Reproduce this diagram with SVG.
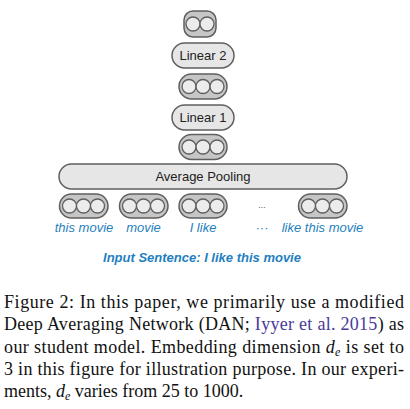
<svg xmlns="http://www.w3.org/2000/svg" width="410" height="409" viewBox="0 0 410 409">
<style>
.outer{fill:#c6c6c6;stroke:#5f5f5f;stroke-width:1.5}
.cir{fill:#ececec;stroke:#5f5f5f;stroke-width:1.3}
.box{fill:#e6e6e6;stroke:#5f5f5f;stroke-width:1.5}
.lbl{font-family:"Liberation Sans",Arial,sans-serif;font-size:13px;fill:#222;text-anchor:middle}
.word{font-family:"Liberation Sans",Arial,sans-serif;font-size:13px;font-style:italic;fill:#1f7fc0;text-anchor:middle}
.cap{font-family:"Liberation Serif","Times New Roman",serif;font-size:18px;fill:#111}
</style>
<rect width="410" height="409" fill="#fff"/>
<g id="connectors"></g>
<g id="out2">
<rect class="outer" x="184" y="11" width="32" height="26" rx="9"/>
<circle class="cir" cx="193" cy="24" r="7"/><circle class="cir" cx="207" cy="24" r="7"/>
</g>
<g id="linear2">
<rect class="box" x="172" y="43" width="62" height="25" rx="12.5"/>
<text class="lbl" x="203" y="60">Linear 2</text>
</g>
<g id="hidden2">
<rect class="outer" x="179" y="74" width="48" height="25" rx="12.5"/>
<circle class="cir" cx="189" cy="86.5" r="7"/><circle class="cir" cx="203" cy="86.5" r="7"/><circle class="cir" cx="217" cy="86.5" r="7"/>
</g>
<g id="linear1">
<rect class="box" x="172" y="105" width="62" height="25" rx="12.5"/>
<text class="lbl" x="203" y="122">Linear 1</text>
</g>
<g id="hidden1">
<rect class="outer" x="179" y="134.5" width="48" height="25" rx="12.5"/>
<circle class="cir" cx="189" cy="147" r="7"/><circle class="cir" cx="203" cy="147" r="7"/><circle class="cir" cx="217" cy="147" r="7"/>
</g>
<g id="pooling">
<rect class="box" x="59" y="164" width="288" height="25" rx="12.5"/>
<text class="lbl" x="203" y="181">Average Pooling</text>
</g>
<g id="emb1">
<rect class="outer" x="59.5" y="194" width="48.5" height="24" rx="12"/>
<circle class="cir" cx="69.5" cy="206" r="7"/><circle class="cir" cx="83.5" cy="206" r="7"/><circle class="cir" cx="97.5" cy="206" r="7"/>
</g>
<g id="emb2">
<rect class="outer" x="119.5" y="194" width="48.5" height="24" rx="12"/>
<circle class="cir" cx="129.5" cy="206" r="7"/><circle class="cir" cx="143.5" cy="206" r="7"/><circle class="cir" cx="157.5" cy="206" r="7"/>
</g>
<g id="emb3">
<rect class="outer" x="179" y="194" width="48" height="24" rx="12"/>
<circle class="cir" cx="189" cy="206" r="7"/><circle class="cir" cx="203" cy="206" r="7"/><circle class="cir" cx="217" cy="206" r="7"/>
</g>
<g id="emb-dots">
<text x="262" y="208" font-family="Liberation Sans,Arial,sans-serif" font-size="9" fill="#555" text-anchor="middle">...</text>
</g>
<g id="emb4">
<rect class="outer" x="298.5" y="194" width="48.5" height="24" rx="12"/>
<circle class="cir" cx="308.5" cy="206" r="7"/><circle class="cir" cx="322.5" cy="206" r="7"/><circle class="cir" cx="336.5" cy="206" r="7"/>
</g>
<g id="labels">
<text class="word" x="84" y="232">this movie</text>
<text class="word" x="143.5" y="232">movie</text>
<text class="word" x="203" y="232">I like</text>
<text class="word" x="262" y="232">···</text>
<text class="word" x="322.5" y="232">like this movie</text>
<text class="word" x="202" y="262" font-weight="bold">Input Sentence: I like this movie</text>
</g>
<g id="caption">
<text class="cap" x="4" y="308" textLength="400" lengthAdjust="spacing">Figure 2: In this paper, we primarily use a modified</text>
<text class="cap" x="4" y="330" textLength="400" lengthAdjust="spacing">Deep Averaging Network (DAN; <tspan fill="#4a3a9a">Iyyer et al. 2015</tspan>) as</text>
<text class="cap" x="4" y="352.5" textLength="400" lengthAdjust="spacing">our student model. Embedding dimension <tspan font-style="italic">d</tspan><tspan font-style="italic" font-size="12" dy="3">e</tspan><tspan dy="-3"> is set to</tspan></text>
<text class="cap" x="4" y="375" textLength="400" lengthAdjust="spacing">3 in this figure for illustration purpose. In our experi-</text>
<text class="cap" x="4" y="397">ments, <tspan font-style="italic">d</tspan><tspan font-style="italic" font-size="12" dy="3">e</tspan><tspan dy="-3"> varies from 25 to 1000.</tspan></text>
</g>
</svg>
